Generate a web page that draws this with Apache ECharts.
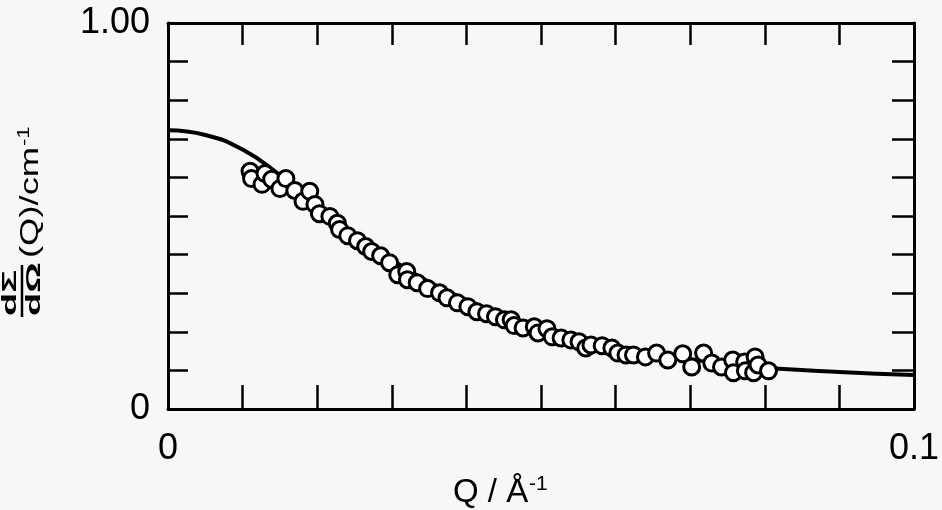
<!DOCTYPE html>
<html>
<head>
<meta charset="utf-8">
<title>SANS</title>
<script src="https://cdn.jsdelivr.net/npm/echarts@6/dist/echarts.min.js"></script>
<style>
	html, body { margin: 0; padding: 0; background: #f7f7f7; }
	#main { width: 942px; height: 510px; }
</style>
</head>
<body>
<div id="main"></div>
<script>
// measured points, Q in 1/A
var qData = [0.0110, 0.0112, 0.0126, 0.0130, 0.0139, 0.0150, 0.0158, 0.0170, 0.0181, 0.0190,
	0.0197, 0.0203, 0.0217, 0.0227, 0.0230, 0.0241, 0.0254, 0.0265, 0.0273, 0.0285,
	0.0297, 0.0308, 0.0320, 0.0321, 0.0334, 0.0348, 0.0364, 0.0374, 0.0388, 0.0402,
	0.0414, 0.0427, 0.0439, 0.0451, 0.0460, 0.0464, 0.0476, 0.0491, 0.0496, 0.0508,
	0.0515, 0.0527, 0.0540, 0.0551, 0.0560, 0.0567, 0.0582, 0.0595, 0.0603, 0.0614,
	0.0624, 0.0640, 0.0655, 0.0670, 0.0690, 0.0702, 0.0718, 0.0729, 0.0742, 0.0757,
	0.0758, 0.0773, 0.0774, 0.0785, 0.0787, 0.0791, 0.0805];
// measured points, dSigma/dOmega in 1/cm
var iData = [0.616, 0.597, 0.582, 0.610, 0.595, 0.571, 0.597, 0.566, 0.538, 0.564,
	0.530, 0.506, 0.499, 0.481, 0.465, 0.449, 0.436, 0.421, 0.408, 0.397,
	0.379, 0.348, 0.356, 0.335, 0.327, 0.312, 0.301, 0.288, 0.275, 0.265,
	0.252, 0.247, 0.239, 0.231, 0.231, 0.216, 0.210, 0.213, 0.197, 0.208,
	0.187, 0.184, 0.179, 0.174, 0.158, 0.166, 0.164, 0.158, 0.145, 0.140,
	0.140, 0.135, 0.145, 0.127, 0.143, 0.109, 0.145, 0.119, 0.109, 0.127,
	0.094, 0.122, 0.099, 0.094, 0.135, 0.114, 0.099];
// fitted curve
var qFit = [0, 0.005, 0.010, 0.015, 0.020, 0.025, 0.030, 0.035, 0.040, 0.045,
	0.050, 0.055, 0.060, 0.065, 0.070, 0.075, 0.080, 0.090, 0.100];
var iFit = [0.722, 0.710, 0.672, 0.606, 0.530, 0.454, 0.387, 0.329, 0.283, 0.244,
	0.211, 0.184, 0.162, 0.144, 0.129, 0.117, 0.107, 0.096, 0.088];
// only the end ticks are labelled
var xTickLabels = {"0": "0", "0.1": "0.1"};
var yTickLabels = {"0": "0", "1": "1.00"};

var FONT = "'Liberation Sans', Arial, Helvetica, sans-serif";

function pairs(xs, ys) {
	var out = [];
	for (var i = 0; i < xs.length; i++) {
		out.push([xs[i], ys[i]]);
	}
	return out;
}

function tickLabel(map) {
	return function(v) {
		var key = String(Math.round(v * 1000) / 1000);
		return map[key] || '';
	};
}

function frameAxis(pos, len, labelMap) {
	var vertical = pos == 'left' || pos == 'right';
	return {
		type: 'value',
		position: pos,
		min: 0,
		max: vertical ? 1 : 0.1,
		interval: vertical ? 0.1 : 0.01,
		axisLine: { show: true, onZero: false, lineStyle: { color: '#000', width: 3 } },
		axisTick: { show: true, inside: true, length: len, lineStyle: { color: '#000', width: 2.5 } },
		axisLabel: {
			show: !!labelMap,
			formatter: labelMap ? tickLabel(labelMap) : '',
			color: '#000',
			fontFamily: FONT,
			fontSize: 36,
			margin: vertical ? 18 : 22
		},
		splitLine: { show: false }
	};
}

var chart = echarts.init(document.getElementById('main'));
chart.setOption({
	backgroundColor: '#f7f7f7',
	animation: false,
	grid: { left: 168, right: 26, top: 23, bottom: 101 },
	xAxis: [frameAxis('bottom', 24, xTickLabels), frameAxis('top', 22, null)],
	yAxis: [frameAxis('left', 20, yTickLabels), frameAxis('right', 22, null)],
	series: [{
		name: 'fit',
		type: 'line',
		smooth: true,
		symbol: 'none',
		lineStyle: { color: '#000', width: 4 },
		data: pairs(qFit, iFit),
		z: 2
	}, {
		name: 'data',
		type: 'scatter',
		symbol: 'circle',
		symbolSize: 16,
		itemStyle: { color: '#fff', borderColor: '#000', borderWidth: 3, opacity: 1 },
		data: pairs(qData, iData),
		z: 3
	}],
	graphic: [{
		// x axis title  Q / A^-1
		type: 'group',
		left: 453,
		top: 474,
		children: [{
			type: 'text',
			x: 0, y: 4,
			style: { text: 'Q / Å', font: '33px ' + FONT, fill: '#000' }
		}, {
			type: 'text',
			x: 76, y: 2,
			style: { text: '-1', font: '21px ' + FONT, fill: '#000' }
		}]
	}, {
		// y axis title  dSigma/dOmega (Q)/cm^-1, rotated
		type: 'group',
		x: 27,
		y: 218,
		rotation: Math.PI / 2,
		children: [{
			type: 'text',
			x: -98, y: -7,
			scaleX: 1.9,
			style: { text: 'dΣ', font: 'bold 20px ' + FONT, fill: '#000', align: 'left', verticalAlign: 'bottom' }
		}, {
			type: 'line',
			shape: { x1: -99, y1: -5, x2: -47, y2: -5 },
			style: { stroke: '#000', lineWidth: 2.5 }
		}, {
			type: 'text',
			x: -98, y: -3,
			scaleX: 1.9,
			style: { text: 'dΩ', font: 'bold 20px ' + FONT, fill: '#000', align: 'left', verticalAlign: 'top' }
		}, {
			type: 'text',
			x: -40, y: 4,
			scaleX: 1.4,
			style: { text: '(Q)/cm', font: '26px ' + FONT, fill: '#000', align: 'left', verticalAlign: 'middle' }
		}, {
			type: 'text',
			x: 72, y: -11,
			scaleX: 1.3,
			style: { text: '-1', font: '17px ' + FONT, fill: '#000', align: 'left', verticalAlign: 'top' }
		}]
	}]
});
</script>
</body>
</html>
